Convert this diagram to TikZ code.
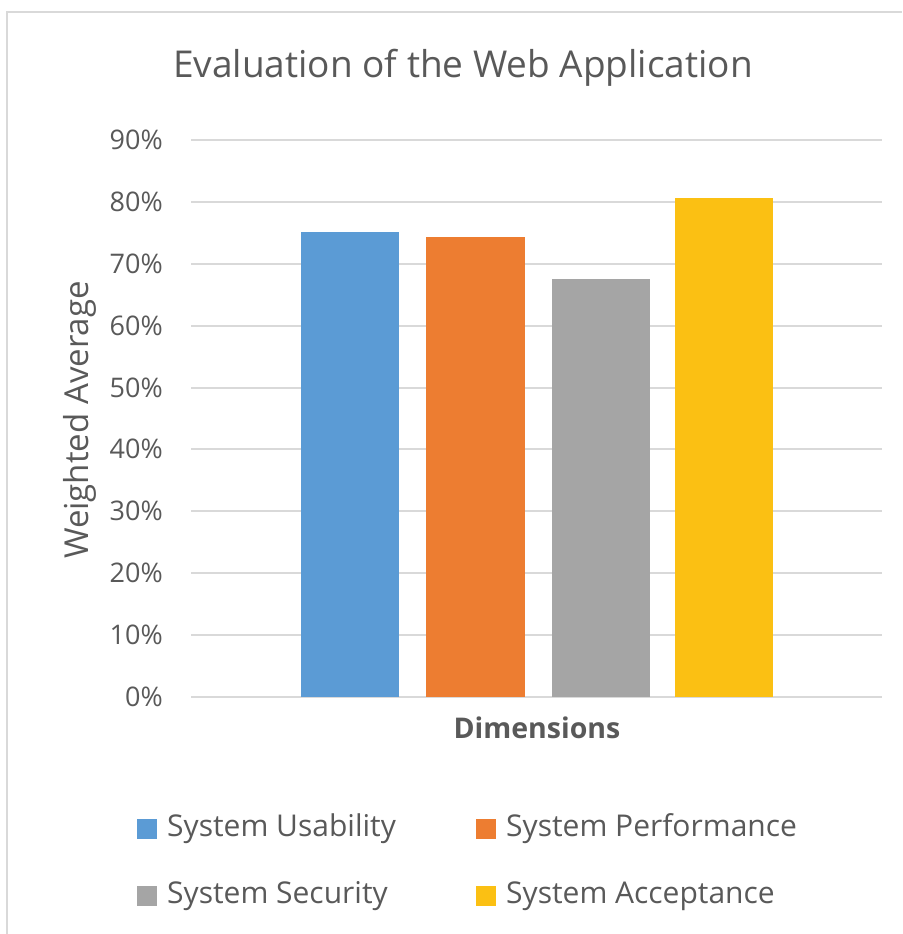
\documentclass[tikz,border=0pt]{standalone}
\usepackage{fontspec}
\setmainfont{Open Sans}
\definecolor{txtgray}{HTML}{595959}
\definecolor{gridgray}{HTML}{D9D9D9}
\definecolor{usab}{HTML}{5B9BD5}
\definecolor{perf}{HTML}{ED7D31}
\definecolor{secu}{HTML}{A5A5A5}
\definecolor{accp}{HTML}{FBC013}
\begin{document}
\begin{tikzpicture}[x=1pt,y=-1pt,
    ticklbl/.style={left,text=txtgray,font=\fontsize{27}{32}\selectfont,inner sep=0},
    legtxt/.style={right,text=txtgray,font=\fontsize{30}{36}\selectfont,inner sep=0}]
    \useasboundingbox (0,0) rectangle (902,934);
    \draw[gridgray,line width=2] (7,934) -- (7,12) -- (902,12);
    \node[text=txtgray,font=\fontsize{37}{44}\selectfont] (title) at (463,68) {Evaluation of the Web Application};
    \foreach \p in {0,...,9}
        \draw[gridgray,line width=2] (191,696.5-61.8*\p) -- (882,696.5-61.8*\p);
    \node[ticklbl] (tick0) at (163,696.5) {0\%};
    \foreach \p in {1,...,9}
        \node[ticklbl] (tick\p) at (163,696.5-61.8*\p) {\p0\%};
    \fill[usab] (301,696.5) rectangle (399,231.7);
    \fill[perf] (426,696.5) rectangle (525,237.3);
    \fill[secu] (552,696.5) rectangle (650,279);
    \fill[accp] (675,696.5) rectangle (773,198.3);
    \node[text=txtgray,font=\bfseries\fontsize{28.5}{34}\selectfont] (xlbl) at (537,728) {Dimensions};
    \node[text=txtgray,font=\fontsize{33}{40}\selectfont,rotate=90] (ylbl) at (80,420) {Weighted Average};
    \fill[usab] (137,819) rectangle (157,839);
    \node[legtxt] (lgusab) at (167,829) {System Usability};
    \fill[perf] (476,819) rectangle (496,839);
    \node[legtxt] (lgperf) at (506,829) {System Performance};
    \fill[secu] (137,886) rectangle (157,906);
    \node[legtxt] (lgsecu) at (167,896) {System Security};
    \fill[accp] (476,886) rectangle (496,906);
    \node[legtxt] (lgaccp) at (506,896) {System Acceptance};
\end{tikzpicture}
\end{document}
